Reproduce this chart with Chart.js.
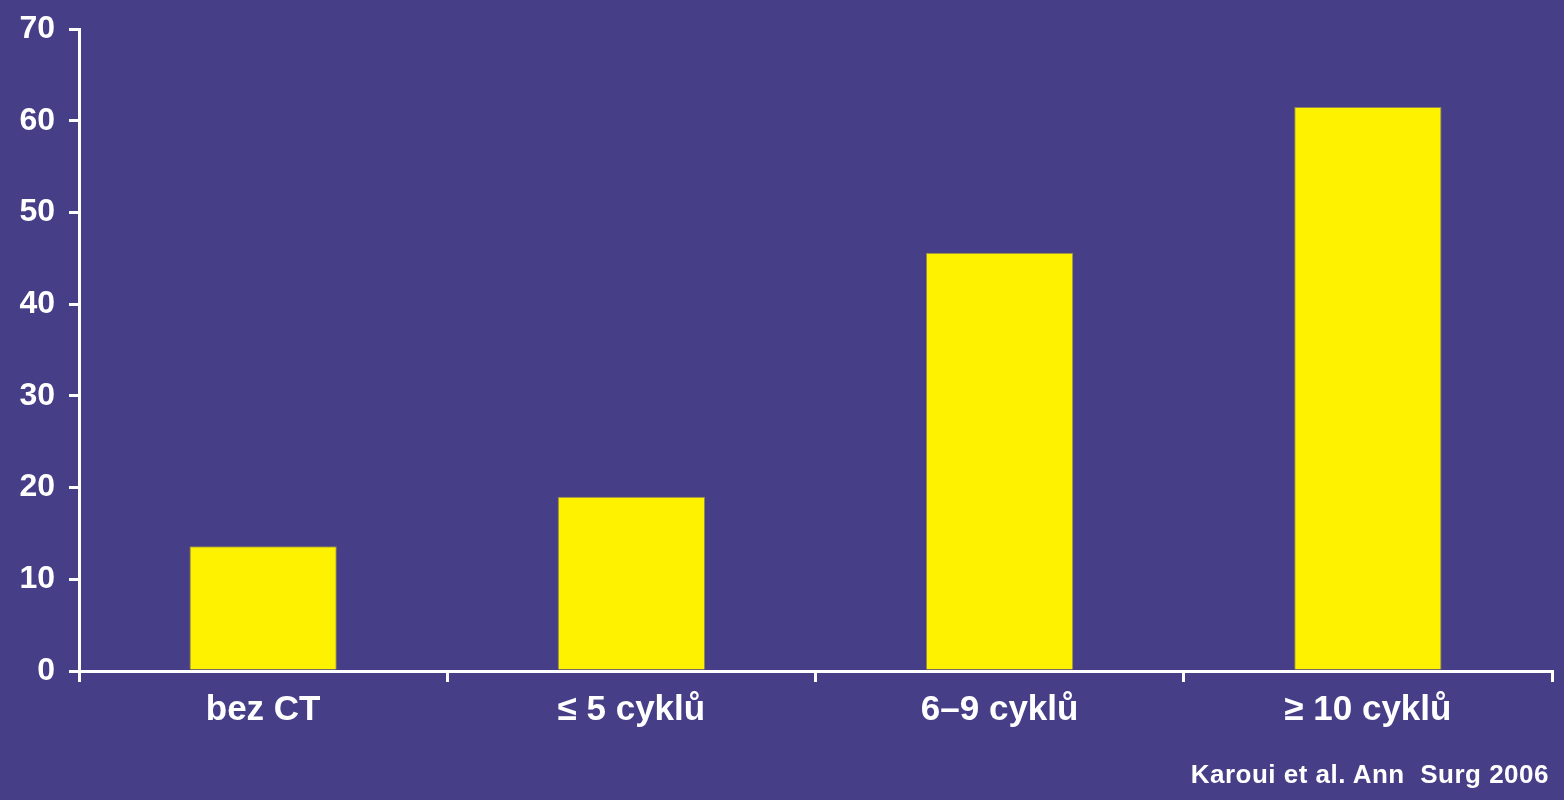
<!DOCTYPE html>
<html lang="cs">
<head>
  <meta charset="UTF-8" />
  <title>Karoui 2006</title>
  <script src="https://cdn.jsdelivr.net/npm/chart.js"></script>
  <style>
    *{margin:0;padding:0;box-sizing:border-box}
    body{background:#463f87;width:1564px;height:800px;overflow:hidden;font-family:'Liberation Sans',Arial,sans-serif}
    .wrap{position:relative;width:1564px;height:800px}
    #chart{display:block}
    .source{position:absolute;right:15px;top:759px;color:#fff;font-weight:bold;font-size:26px;white-space:pre;letter-spacing:0.5px}
  </style>
</head>
<body>
  <div class="wrap">
    <canvas id="chart" width="1564" height="800"></canvas>
    <div class="source">Karoui et al. Ann  Surg 2006</div>
  </div>

  <script>
    // kategorie a hodnoty
    const categories = ['bez CT', '\u2264 5 cyklů', '6\u20139 cyklů', '\u2265 10 cyklů'];
    const values = [13.6, 19.0, 45.6, 61.5];
    const yTicks = [0, 10, 20, 30, 40, 50, 60, 70];

    new Chart(document.getElementById('chart').getContext('2d'), {
      type: 'bar',
      data: {
        labels: categories,
        datasets: [{
          data: values,
          backgroundColor: '#fff200',
          borderColor: '#8f8650',
          borderWidth: 1,
          borderSkipped: 'bottom',
          categoryPercentage: 1,
          barPercentage: 0.4
        }]
      },
      options: {
        responsive: false,
        animation: false,
        layout: { padding: { top: 29, right: 12, bottom: 0, left: 0 } },
        plugins: { legend: { display: false }, tooltip: { enabled: false } },
        scales: {
          x: {
            afterFit: s => { s.height = 129; },
            border: { display: true, color: '#fff', width: 3 },
            grid: { drawOnChartArea: false, drawTicks: true, tickLength: 11, color: '#fff', lineWidth: 3, offset: true },
            ticks: { color: '#fff', padding: 7, font: { family: 'Liberation Sans', size: 35, weight: 'bold' } }
          },
          y: {
            min: 0, max: 70,
            afterFit: s => { s.width = 79; s.paddingTop = 0; s.paddingBottom = 0; },
            afterBuildTicks: s => { s.ticks = yTicks.map(v => ({ value: v })); },
            border: { display: true, color: '#fff', width: 3 },
            grid: { drawOnChartArea: false, drawTicks: true, tickLength: 10, color: '#fff', lineWidth: 3 },
            ticks: { color: '#fff', padding: 14, font: { family: 'Liberation Sans', size: 32, weight: 'bold' } }
          }
        }
      }
    });
  </script>
</body>
</html>
